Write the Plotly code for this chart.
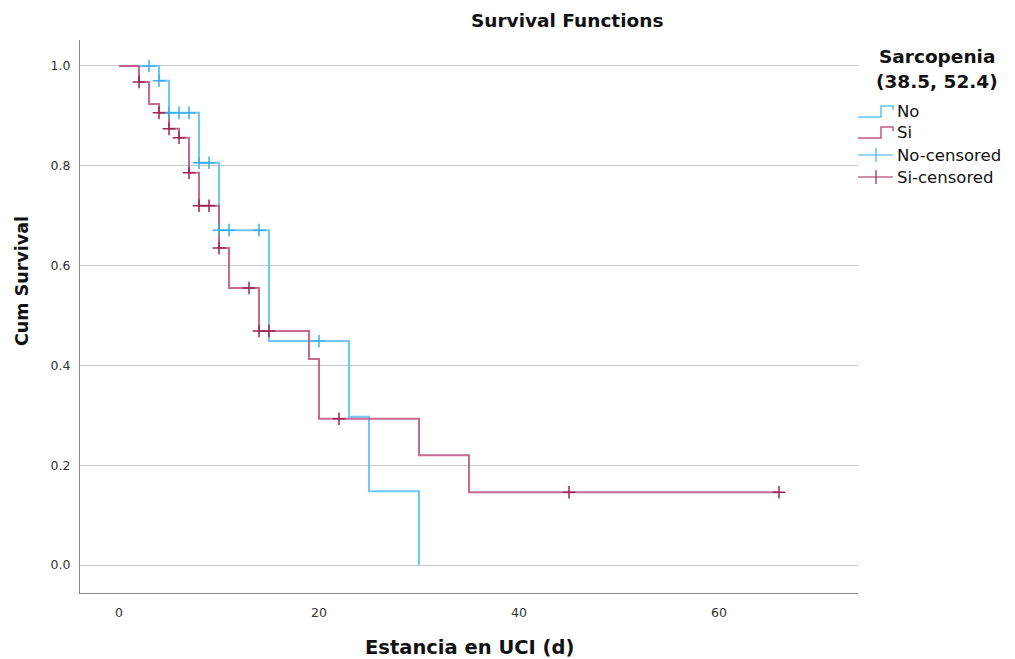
import plotly.graph_objects as go

# ---- data ----
no_times = [0, 4, 5, 8, 10, 15, 23, 25, 30]
no_surv = [1.0, 0.9705, 0.906, 0.806, 0.671, 0.449, 0.297, 0.148, 0.0]
no_cens_times = [3, 4, 5, 6, 7, 8, 9, 10, 11, 14, 20]
no_cens_surv = [1.0, 0.9705, 0.906, 0.906, 0.906, 0.806, 0.806, 0.671, 0.671, 0.671, 0.449]

si_times = [0, 2, 3, 4, 5, 6, 7, 8, 10, 11, 14, 19, 20, 30, 35, 66]
si_surv = [1.0, 0.968, 0.924, 0.906, 0.874, 0.856, 0.786, 0.72, 0.635, 0.555, 0.469, 0.413, 0.293, 0.220, 0.146, 0.146]
si_cens_times = [2, 4, 5, 6, 7, 8, 9, 10, 13, 14, 15, 22, 45, 66]
si_cens_surv = [0.968, 0.906, 0.874, 0.856, 0.786, 0.72, 0.72, 0.635, 0.555, 0.469, 0.469, 0.293, 0.146, 0.146]

x_ticks = [0, 20, 40, 60]
y_ticks = [0.0, 0.2, 0.4, 0.6, 0.8, 1.0]
legend_labels = ["No", "Si", "No-censored", "Si-censored"]

BLUE = "#62c3f7"
RED = "#c05a84"
BLUE_C = "#3aaef0"
RED_C = "#9e2656"
FONT = "DejaVu Sans"

W, H = 1015, 659
# page offset of 8px (body margin) compensated in the margins
PL, PT, PR, PB = 80, 40, 858, 593  # plot area in page pixels
OFF = 8
L = PL - OFF
T = PT - OFF
R = W - L - (PR - PL)
B = H - T - (PB - PT)

fig = go.Figure()
fig.add_trace(go.Scatter(x=no_times, y=no_surv, mode="lines", line=dict(color=BLUE, width=2, shape="hv"),
                         opacity=0.9, showlegend=False, hoverinfo="skip"))
fig.add_trace(go.Scatter(x=si_times, y=si_surv, mode="lines", line=dict(color=RED, width=2, shape="hv"),
                         opacity=0.9, showlegend=False, hoverinfo="skip"))
fig.add_trace(go.Scatter(x=no_cens_times, y=no_cens_surv, mode="markers",
                         marker=dict(symbol="cross-thin", size=9, line=dict(color=BLUE_C, width=1.5)),
                         showlegend=False))
fig.add_trace(go.Scatter(x=si_cens_times, y=si_cens_surv, mode="markers",
                         marker=dict(symbol="cross-thin", size=9, line=dict(color=RED_C, width=1.5)),
                         showlegend=False))

fig.update_layout(
    width=W, height=H,
    margin=dict(l=L, r=R, t=T, b=B),
    paper_bgcolor="white", plot_bgcolor="white",
    font=dict(family=FONT, color="#333333"),
    xaxis=dict(range=[-3.9, 73.9], tickvals=x_ticks, showgrid=False, zeroline=False,
               showline=True, linecolor="#8a8a8a", linewidth=1, ticks="",
               tickfont=dict(size=12.5, color="#333333"), ticklabelstandoff=8),
    yaxis=dict(range=[-0.056, 1.052], tickvals=y_ticks, tickformat=".1f", showgrid=True,
               gridcolor="#c8c8c8", gridwidth=1, zeroline=False,
               showline=True, linecolor="#8a8a8a", linewidth=1, ticks="",
               tickfont=dict(size=12.5, color="#333333"), ticklabelstandoff=6),
)

def px_x(p):
    return (p - PL) / (PR - PL)

def px_y(p):
    return (PB - p) / (PB - PT)

annotations = [
    dict(text="<b>Survival Functions</b>", x=px_x(567), y=px_y(20), xref="paper", yref="paper",
         showarrow=False, font=dict(size=18.5, color="#111111", family=FONT), xanchor="center", yanchor="middle"),
    dict(text="<b>Estancia en UCI (d)</b>", x=px_x(470), y=px_y(647), xref="paper", yref="paper",
         showarrow=False, font=dict(size=19.5, color="#111111", family=FONT), xanchor="center", yanchor="middle"),
    dict(text="<b>Cum Survival</b>", x=px_x(22), y=px_y(281), xref="paper", yref="paper", textangle=-90,
         showarrow=False, font=dict(size=17.5, color="#111111", family=FONT), xanchor="center", yanchor="middle"),
    dict(text="<b>Sarcopenia</b>", x=px_x(937), y=px_y(56), xref="paper", yref="paper",
         showarrow=False, font=dict(size=18.5, color="#111111", family=FONT), xanchor="center", yanchor="middle"),
    dict(text="<b>(38.5, 52.4)</b>", x=px_x(937), y=px_y(81), xref="paper", yref="paper",
         showarrow=False, font=dict(size=18.5, color="#111111", family=FONT), xanchor="center", yanchor="middle"),
]

shapes = []
leg_y = [112, 133, 155, 177]
leg_cols = [BLUE, RED, BLUE_C, RED_C]
for i, (lab, yy, col) in enumerate(zip(legend_labels, leg_y, leg_cols)):
    annotations.append(dict(text=lab, x=px_x(895), y=px_y(yy), xref="paper", yref="paper",
                            showarrow=False, font=dict(size=16.5, color="#111111", family=FONT),
                            xanchor="left", yanchor="middle"))
    if i < 2:
        path = (f"M {px_x(858)} {px_y(yy + 5)} L {px_x(881)} {px_y(yy + 5)} "
                f"L {px_x(881)} {px_y(yy - 6)} L {px_x(893)} {px_y(yy - 6)} L {px_x(893)} {px_y(yy - 2)}")
        shapes.append(dict(type="path", path=path, xref="paper", yref="paper",
                           line=dict(color=col, width=1.5)))
    else:
        shapes.append(dict(type="line", x0=px_x(858), x1=px_x(893), y0=px_y(yy), y1=px_y(yy),
                           xref="paper", yref="paper", line=dict(color=col, width=1.2)))
        shapes.append(dict(type="line", x0=px_x(876), x1=px_x(876), y0=px_y(yy - 7), y1=px_y(yy + 7),
                           xref="paper", yref="paper", line=dict(color=col, width=1.2)))

fig.update_layout(annotations=annotations, shapes=shapes)
fig.write_html("out.html")
